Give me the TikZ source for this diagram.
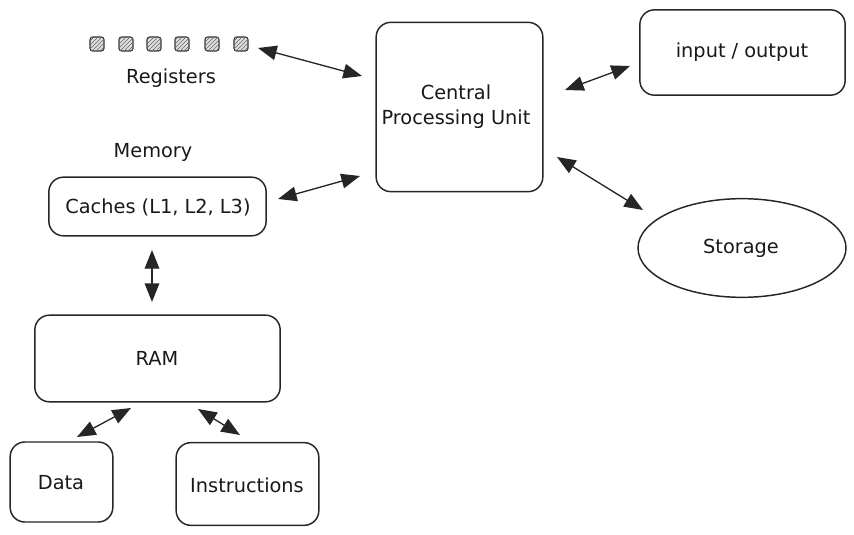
\documentclass[tikz,border=0pt]{standalone}
\usepackage{fontspec}
\setmainfont{DejaVu Sans}
\usetikzlibrary{arrows.meta,patterns,shapes.geometric}
\begin{document}
\begin{tikzpicture}[x=0.75pt,y=-0.75pt,
  box/.style={draw=black!85,line width=1.1pt,rounded corners=11pt,fill=white},
  lbl/.style={font=\fontsize{14.5}{18.5}\selectfont,text=black!90,align=center},
  reg/.style={draw=black!80,line width=0.8pt,rounded corners=2pt,fill=black!12,postaction={pattern=north east lines,pattern color=black!60}},
  link/.style={draw=black!85,line width=1pt,{Triangle[length=14pt,width=11pt]}-{Triangle[length=14pt,width=11pt]}}
]
\useasboundingbox (0,0) rectangle (854,535);

% registers
\foreach \i/\x in {1/97,2/126,3/154,4/182,5/212,6/241}{
  \node[reg,minimum size=10.5pt,inner sep=0pt] (r\i) at (\x,44) {};
}
\node[lbl] (reglbl) at (171,78) {Registers};

% processor and peripherals
\node[box,minimum width=125pt,minimum height=127pt] (cpu) at (459.5,107) {};
\node[lbl] (cputxt) at (456,107) {Central\\Processing Unit};
\node[box,minimum width=154pt,minimum height=64pt] (io) at (742.5,52.5) {};
\node[lbl] (iotxt) at (742,52) {input / output};
\node[ellipse,draw=black!85,line width=1.1pt,minimum width=156pt,minimum height=74pt] (storage) at (742,248) {};
\node[lbl] (sttxt) at (741,248) {Storage};

% memory hierarchy
\node[lbl] (memlbl) at (153,152) {Memory};
\node[box,minimum width=163pt,minimum height=44pt] (cache) at (157.5,206.5) {};
\node[lbl] (cachetxt) at (158,207) {Caches (L1, L2, L3)};
\node[box,minimum width=184pt,minimum height=65pt] (ram) at (157.5,358.5) {};
\node[lbl] (ramtxt) at (157,358) {RAM};
\node[box,minimum width=77pt,minimum height=60pt] (data) at (61.5,482) {};
\node[lbl] (datatxt) at (61,483) {Data};
\node[box,minimum width=107pt,minimum height=62pt] (instr) at (247.5,484) {};
\node[lbl] (instrtxt) at (247,485) {Instructions};

% connector end points
\coordinate (a1) at (258,48);  \coordinate (a2) at (362,76);
\coordinate (b1) at (565,90);  \coordinate (b2) at (630,66);
\coordinate (c1) at (557,157); \coordinate (c2) at (643,210);
\coordinate (d1) at (278,199); \coordinate (d2) at (360,176);
\coordinate (e1) at (152,250); \coordinate (e2) at (152,302);
\coordinate (f1) at (131,408); \coordinate (f2) at (77,437);
\coordinate (g1) at (198,409); \coordinate (g2) at (240,435);

\draw[link] (a1) -- (a2);
\draw[link] (b1) -- (b2);
\draw[link] (c1) -- (c2);
\draw[link] (d1) -- (d2);
\draw[link] (e1) -- (e2);
\draw[link] (f1) -- (f2);
\draw[link] (g1) -- (g2);
\end{tikzpicture}
\end{document}
